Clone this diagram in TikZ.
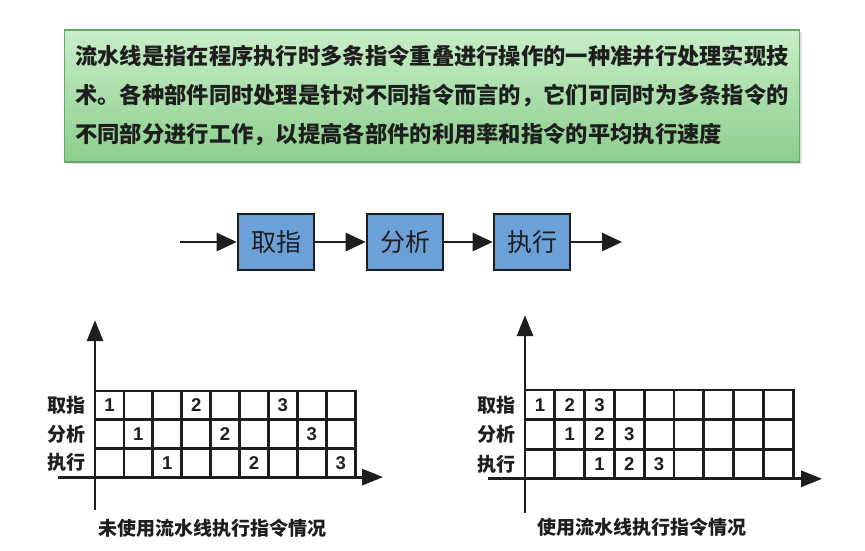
\documentclass[tikz,border=0pt]{standalone}
\usepackage{fontspec}
\usepackage{xcolor}
\usepackage{tikz}
\usetikzlibrary{arrows.meta,positioning,shadows}
\newfontfamily\cjk{Noto Sans CJK SC}
\newfontfamily\digitfont{Liberation Sans}
\definecolor{infogreenA}{RGB}{200,238,200}
\definecolor{infogreenB}{RGB}{140,206,140}
\definecolor{infoedge}{RGB}{100,170,100}
\definecolor{stageblue}{RGB}{108,160,216}
\definecolor{inkgray}{RGB}{30,30,30}

\begin{document}
\begin{tikzpicture}[
    x=1pt, y=-1pt,
    infobox/.style={draw=infoedge, line width=1.2pt, top color=infogreenA, bottom color=infogreenB,
      drop shadow={opacity=0.25, shadow xshift=2pt, shadow yshift=-2pt},
      minimum width=735pt, minimum height=132pt, align=left, inner sep=0pt,
      font=\cjk\bfseries\fontsize{22.3}{39}\selectfont, text=inkgray},
    stagebox/.style={draw=inkgray, line width=2.6pt, fill=stageblue, minimum width=76pt,
      minimum height=56pt, font=\cjk\fontsize{25}{25}\selectfont, text=inkgray},
    arrow/.style={-{Triangle[length=20pt, width=18pt]}, line width=2.6pt, inkgray},
    axis/.style={-{Triangle[length=21pt, width=16pt]}, line width=2.8pt, inkgray},
    gridline/.style={line width=2.8pt, inkgray, line cap=rect},
    rowlabel/.style={font=\cjk\bfseries\fontsize{19}{19}\selectfont, text=inkgray},
    cellnum/.style={font=\digitfont\bfseries\fontsize{18.5}{18.5}\selectfont, text=inkgray},
    caption/.style={font=\cjk\bfseries\fontsize{19}{19}\selectfont, text=inkgray}
  ]
    \useasboundingbox[fill=white] (0,0) rectangle (865,550);

    % explanation box
    \node[infobox] (info) at (432,96) {流水线是指在程序执行时多条指令重叠进行操作的一种准并行处理实现技\\
      术。各种部件同时处理是针对不同指令而言的，它们可同时为多条指令的\\
      不同部分进行工作，以提高各部件的利用率和指令的平均执行速度};

    % pipeline stages
    \coordinate (in) at (180,242);
    \node[stagebox] (fetch) at (276,242) {取指};
    \node[stagebox] (decode) at (405,242) {分析};
    \node[stagebox] (exec) at (532,242) {执行};
    \coordinate (out) at (622,242);

    \draw[arrow] (in) -- (fetch);
    \draw[arrow] (fetch) -- (decode);
    \draw[arrow] (decode) -- (exec);
    \draw[arrow] (exec) -- (out);

    % sequential execution chart
    \begin{scope}[shift={(95,391)}, x=28.9pt, y=-28.7pt]
      \coordinate (lyb) at (0,4.15);
      \coordinate (lyt) at (0,-2.47);
      \coordinate (lxl) at (-1.28,3);
      \coordinate (lxr) at (9.97,3);
      \foreach \c in {1,...,9}
        \draw[gridline] (\c,0) -- (\c,3);
      \foreach \r in {0,1,2}
        \draw[gridline] (0,\r) -- (9,\r);
      \draw[axis] (lyb) -- (lyt);
      \draw[axis] (lxl) -- (lxr);
      \foreach \r/\lab in {0/取指,1/分析,2/执行}
        \node[rowlabel] (sl\r) at (-0.97,\r+0.5) {\lab};
      \foreach \r in {0,1,2}
        \foreach \i in {1,2,3}
          \node[cellnum] (s\r\i) at ({3*(\i-1)+\r+0.5},\r+0.5) {\i};
      \node[caption] (scap) at (4.05,4.77) {未使用流水线执行指令情况};
    \end{scope}

    % pipelined execution chart
    \begin{scope}[shift={(525,390)}, x=29.8pt, y=-29.6pt]
      \coordinate (ryb) at (0,4.15);
      \coordinate (ryt) at (0,-2.53);
      \coordinate (rxl) at (-1.24,3);
      \coordinate (rxr) at (9.97,3);
      \foreach \c in {1,...,9}
        \draw[gridline] (\c,0) -- (\c,3);
      \foreach \r in {0,1,2}
        \draw[gridline] (0,\r) -- (9,\r);
      \draw[axis] (ryb) -- (ryt);
      \draw[axis] (rxl) -- (rxr);
      \foreach \r/\lab in {0/取指,1/分析,2/执行}
        \node[rowlabel] (pl\r) at (-0.95,\r+0.5) {\lab};
      \foreach \r in {0,1,2}
        \foreach \i in {1,2,3}
          \node[cellnum] (p\r\i) at ({\i-1+\r+0.5},\r+0.5) {\i};
      \node[caption] (pcap) at (3.93,4.63) {使用流水线执行指令情况};
    \end{scope}
  \end{tikzpicture}
\end{document}
